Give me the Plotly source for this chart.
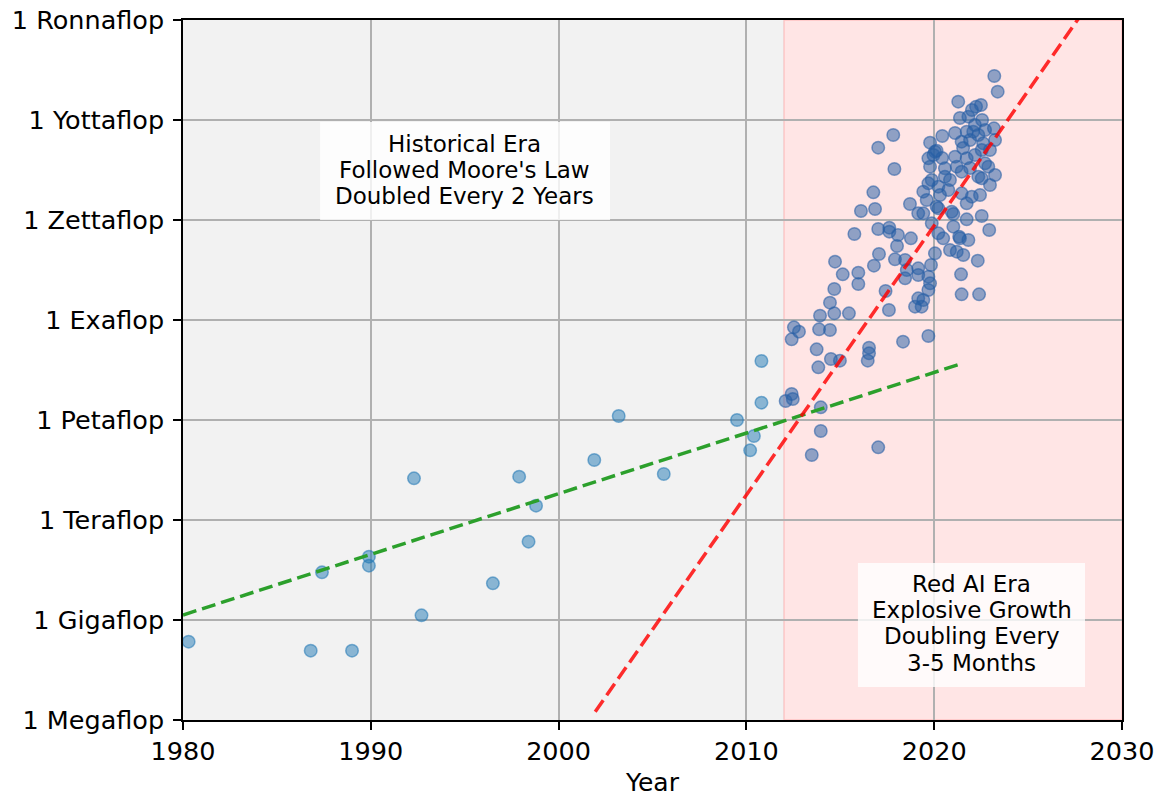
import numpy as np
import plotly.graph_objects as go

# ---------------- data ----------------
hist_year = [1980.3, 1986.8, 1987.4, 1989.0, 1989.9, 1989.9, 1992.3, 1992.7, 1996.5, 1997.9,
             1998.4, 1998.8, 2001.9, 2003.2, 2005.6, 2009.5, 2010.2, 2010.4, 2010.8, 2010.8]
hist_log_flops = [8.35, 8.08, 10.43, 8.08, 10.9, 10.63, 13.25, 9.14, 10.1, 13.3,
                  11.35, 12.43, 13.8, 15.12, 13.38, 15.0, 14.09, 14.52, 16.77, 15.52]

ai_year = [2014.68, 2014.45, 2013.92, 2014.68, 2015.46, 2017.59, 2017.41, 2012.53, 2012.80, 2012.41,
           2013.87, 2014.45, 2013.74, 2013.83, 2014.50, 2014.98, 2016.53, 2016.53, 2016.46, 2018.34,
           2012.41, 2012.09, 2012.47, 2013.96, 2013.96, 2013.48, 2017.02, 2017.82, 2017.02, 2017.88,
           2016.76, 2016.10, 2016.85, 2015.75, 2017.02, 2017.61, 2017.61, 2018.07, 2018.02, 2017.06,
           2016.79, 2017.91, 2014.72, 2015.13, 2015.96, 2015.96, 2023.20, 2023.38, 2021.28, 2022.23,
           2022.49, 2021.82, 2023.18, 2020.43, 2019.78, 2023.24, 2021.73, 2022.08, 2022.35, 2021.91,
           2021.46, 2022.61, 2020.04, 2019.69, 2019.78, 2020.57, 2021.11, 2021.73, 2022.17, 2022.71,
           2022.88, 2023.24, 2021.20, 2021.46, 2022.35, 2022.53, 2020.57, 2019.87, 2019.69, 2019.42,
           2020.22, 2020.75, 2021.46, 2022.00, 2022.44, 2021.73, 2018.71, 2019.60, 2020.22, 2019.15,
           2019.42, 2020.93, 2022.53, 2021.73, 2019.87, 2021.02, 2022.93, 2018.76, 2020.22, 2020.48,
           2021.37, 2021.82, 2020.04, 2020.84, 2021.20, 2021.55, 2022.32, 2018.45, 2018.54, 2019.15,
           2019.15, 2019.83, 2018.45, 2019.69, 2019.78, 2019.69, 2021.43, 2019.15, 2019.42, 2018.98,
           2019.33, 2021.46, 2022.39, 2019.69, 2022.53, 2022.97, 2022.17, 2022.71, 2021.54, 2021.91,
           2020.84, 2020.31, 2020.42, 2022.97, 2021.11, 2022.55, 2022.01, 2021.37, 2019.96, 2020.13,
           2021.33, 2021.02, 2020.13]
ai_log_flops = [18.93, 18.52, 18.13, 18.20, 18.20, 18.30, 18.87, 17.78, 17.65, 17.42,
                17.72, 17.70, 17.12, 16.58, 16.83, 16.78, 17.17, 17.00, 16.78, 17.35,
                15.78, 15.57, 15.63, 15.38, 14.67, 13.95, 14.18, 23.55, 23.17, 22.53,
                21.83, 21.27, 21.33, 20.58, 20.73, 20.77, 20.65, 20.55, 20.22, 19.98,
                19.63, 19.82, 19.75, 19.37, 19.42, 19.08, 25.32, 24.85, 24.55, 24.40,
                24.45, 24.10, 23.75, 23.52, 23.32, 23.40, 23.65, 23.65, 23.55, 23.40,
                23.35, 23.30, 23.05, 22.85, 22.60, 22.55, 22.90, 22.85, 22.95, 22.70,
                22.60, 22.35, 22.60, 22.45, 22.30, 22.25, 22.30, 22.20, 22.10, 21.85,
                22.00, 21.90, 21.80, 21.70, 21.75, 21.50, 21.48, 21.60, 21.35, 21.20,
                21.20, 21.25, 21.12, 21.02, 20.90, 20.80, 20.70, 20.45, 20.60, 20.45,
                20.45, 20.40, 20.00, 20.10, 20.05, 19.95, 19.78, 19.80, 19.50, 19.55,
                19.35, 19.65, 19.25, 19.30, 19.10, 18.90, 19.37, 18.65, 18.60, 18.40,
                18.40, 18.77, 18.77, 17.52, 23.10, 23.10, 23.85, 23.70, 23.16, 22.56,
                22.20, 21.75, 22.86, 22.05, 23.61, 24.00, 24.30, 24.06, 22.95, 23.08,
                20.50, 21.18, 21.40]

moore_trend_year = [1980.0, 2021.5]
moore_trend_log = [9.15, 16.70]
ai_trend_year = [2001.95, 2028.0]
ai_trend_log = [6.25, 27.30]

era_split_year = 2012
x_ticks = [1980, 1990, 2000, 2010, 2020, 2030]
y_tick_exp = [6, 9, 12, 15, 18, 21, 24, 27]
y_tick_text = ["1 Megaflop", "1 Gigaflop", "1 Teraflop", "1 Petaflop",
               "1 Exaflop", "1 Zettaflop", "1 Yottaflop", "1 Ronnaflop"]

hist_note = ["Historical Era", "Followed Moore's Law", "Doubled Every 2 Years"]
ai_note = ["Red AI Era", "Explosive Growth", "Doubling Every", "3-5 Months"]

# ---------------- figure ----------------
FONT = "DejaVu Sans"
fig = go.Figure()

fig.add_trace(go.Scatter(
    x=hist_year, y=10 ** np.array(hist_log_flops), mode="markers",
    marker=dict(size=12.5, color="rgba(31,119,180,0.5)",
                line=dict(color="rgba(31,119,180,0.55)", width=1.5)),
    showlegend=False, hoverinfo="x+y"))
fig.add_trace(go.Scatter(
    x=ai_year, y=10 ** np.array(ai_log_flops), mode="markers",
    marker=dict(size=12.5, color="rgba(40,95,165,0.52)",
                line=dict(color="rgba(40,95,165,0.58)", width=1.5)),
    showlegend=False, hoverinfo="x+y"))

fig.add_trace(go.Scatter(
    x=moore_trend_year, y=10 ** np.array(moore_trend_log), mode="lines",
    line=dict(color="#2ca02c", width=3.5, dash="14px,6px"), showlegend=False))
fig.add_trace(go.Scatter(
    x=ai_trend_year, y=10 ** np.array(ai_trend_log), mode="lines",
    line=dict(color="rgba(255,0,0,0.82)", width=3.5, dash="14px,6px"), showlegend=False))

# era backgrounds
fig.add_shape(type="rect", xref="x", yref="paper", x0=x_ticks[0], x1=era_split_year, y0=0, y1=1,
              fillcolor="#f2f2f2", line=dict(width=0), layer="below")
fig.add_shape(type="rect", xref="x", yref="paper", x0=era_split_year, x1=x_ticks[-1], y0=0, y1=1,
              fillcolor="rgba(255,0,0,0.1)", line=dict(color="rgba(255,0,0,0.15)", width=1.5),
              layer="below")

# annotation boxes
fig.add_shape(type="rect", xref="x", yref="y", x0=1987.3, x1=2002.74, y0=10 ** 21.0, y1=10 ** 23.94,
              fillcolor="rgba(255,255,255,0.8)", line=dict(width=0), layer="above")
fig.add_shape(type="rect", xref="x", yref="y", x0=2015.94, x1=2028.03, y0=10 ** 6.99, y1=10 ** 10.71,
              fillcolor="rgba(255,255,255,0.8)", line=dict(width=0), layer="above")

LS = 26.3
for i, t in enumerate(hist_note):
    fig.add_annotation(x=1995, y=22.5, text=t, showarrow=False, xanchor="center", yanchor="middle",
                       yshift=(1 - i) * LS, font=dict(family=FONT, size=23, color="black"))
for i, t in enumerate(ai_note):
    fig.add_annotation(x=2022, y=8.9, text=t, showarrow=False, xanchor="center", yanchor="middle",
                       yshift=(1.5 - i) * LS, font=dict(family=FONT, size=23, color="black"))

axis_common = dict(showgrid=True, gridcolor="#b0b0b0", gridwidth=1.5, zeroline=False,
                   showline=True, linecolor="black", linewidth=1.5, mirror=True,
                   ticks="outside", ticklen=8, tickwidth=1.5, tickcolor="black",
                   automargin=False,
                   tickfont=dict(family=FONT, size=25.5, color="black"))

fig.update_xaxes(range=[x_ticks[0], x_ticks[-1]], tickvals=x_ticks,
                 title=dict(text="Year", font=dict(family=FONT, size=25, color="black")),
                 **axis_common)
fig.update_yaxes(type="log", range=[y_tick_exp[0], y_tick_exp[-1]],
                 tickvals=[10.0 ** e for e in y_tick_exp], ticktext=y_tick_text,
                 ticklabelstandoff=4, **axis_common)

fig.update_layout(width=1157, height=797, margin=dict(l=183, r=35, t=20, b=77),
                  paper_bgcolor="white", plot_bgcolor="white",
                  font=dict(family=FONT, color="black"), showlegend=False)

fig.write_html("out.html")
